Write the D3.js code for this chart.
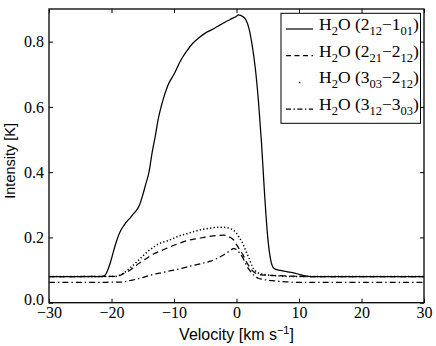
<!DOCTYPE html>
<html><head><meta charset="utf-8">
<script src="https://cdn.jsdelivr.net/npm/d3@7"></script>
<style>body{margin:0;background:#fff}svg{display:block}</style>
</head><body>
<svg id="c" width="436" height="346"></svg>
<script>
// ---- data ----
const xTicks = [-30, -20, -10, 0, 10, 20, 30];
const yTicks = [0, 0.2, 0.4, 0.6, 0.8];

const v212 = [-30,-21.5,-21,-20.5,-20,-19.5,-19,-18.5,-18,-17.5,-17,-16.5,-16,-15.5,-15,-14.5,-14,-13.5,-13,-12.5,-12,-11,-10,-9,-8,-7,-6,-5,-4,-3,-2,-1,0,0.3,1,1.5,2,2.5,3,3.5,4,4.5,5,5.5,6,7,8,9,10,11,12,30];
const i212 = [0.08,0.08,0.085,0.105,0.135,0.17,0.2,0.222,0.237,0.25,0.26,0.272,0.283,0.3,0.33,0.365,0.4,0.46,0.51,0.565,0.605,0.665,0.7,0.74,0.77,0.795,0.812,0.826,0.836,0.847,0.858,0.868,0.878,0.882,0.877,0.867,0.84,0.79,0.72,0.62,0.49,0.33,0.2,0.128,0.105,0.099,0.095,0.092,0.087,0.082,0.08,0.08];

const v221 = [-30,-19.5,-18.5,-18,-17,-16.5,-16,-15,-14,-13,-12,-11,-10,-9,-8,-7,-6,-5,-4,-3,-2,-1,-0.5,0,0.5,1,1.5,2,2.5,3,4,5,8,12,30];
const i221 = [0.08,0.081,0.085,0.09,0.1,0.107,0.115,0.128,0.141,0.152,0.16,0.168,0.176,0.183,0.19,0.194,0.197,0.201,0.204,0.206,0.207,0.2,0.193,0.178,0.163,0.148,0.128,0.112,0.099,0.091,0.085,0.084,0.082,0.08,0.08];

const v303 = [-30,-19.5,-18.6,-18,-17,-16,-15,-14,-13,-12,-11,-10,-9,-8,-7,-6,-5,-4,-3,-2,-1,-0.5,0,0.5,1,1.5,2,2.5,3,3.5,4,5,7,9,30];
const i303 = [0.08,0.08,0.085,0.092,0.107,0.124,0.143,0.16,0.174,0.184,0.19,0.198,0.206,0.211,0.217,0.222,0.226,0.229,0.231,0.231,0.227,0.222,0.213,0.198,0.182,0.158,0.137,0.112,0.098,0.091,0.088,0.085,0.082,0.08,0.08];

const v312 = [-30,-18.5,-18,-17,-16,-15,-14,-13,-12,-11,-10,-9,-8,-7,-6,-5,-4,-3,-2,-1,-0.5,0,0.5,1,1.5,2,2.5,3,3.5,4,5,6,8,10,30];
const i312 = [0.062,0.063,0.064,0.068,0.072,0.077,0.083,0.088,0.092,0.096,0.1,0.104,0.109,0.114,0.118,0.123,0.128,0.137,0.147,0.16,0.166,0.163,0.152,0.138,0.118,0.102,0.09,0.08,0.075,0.072,0.069,0.067,0.064,0.062,0.062];

const seriesNames = [
  {lo:["2","12"], hi:["1","01"]},
  {lo:["2","21"], hi:["2","12"]},
  {lo:["3","03"], hi:["2","12"]},
  {lo:["3","12"], hi:["3","03"]}
];
const seriesV = [v212, v221, v303, v312];
const seriesI = [i212, i221, i303, i312];
const dashes = [null, "6,4", "1.3,2.2", "6,3,1.4,3"];

// ---- layout ----
const L = 49, R = 424, T = 9, B = 302.7;
const svg = d3.select("#c");
const x = d3.scaleLinear().domain([-30, 30]).range([L, R]);
const y = d3.scaleLinear().domain([0, 0.9]).range([B, T]);

const line = d3.line().x(d => x(d[0])).y(d => y(d[1])).curve(d3.curveMonotoneX);

const gPlot = svg.append("g");
seriesV.forEach((vs, k) => {
  const pts = vs.map((v, j) => [v, seriesI[k][j]]);
  gPlot.append("path").attr("d", line(pts)).attr("fill", "none")
    .attr("stroke", "#000").attr("stroke-width", k === 2 ? 1.5 : 1.25)
    .attr("stroke-dasharray", dashes[k]);
});

// axes with inward ticks
const serif = "'Liberation Serif','Times New Roman',serif";
const ax = svg.append("g").attr("transform", `translate(0,${B})`)
  .call(d3.axisBottom(x).tickValues(xTicks).tickSizeInner(-4).tickSizeOuter(0).tickPadding(4));
const axT = svg.append("g").attr("transform", `translate(0,${T})`)
  .call(d3.axisTop(x).tickValues(xTicks).tickSizeInner(-4).tickSizeOuter(0).tickFormat(""));
const ayl = svg.append("g").attr("transform", `translate(${L},0)`)
  .call(d3.axisLeft(y).tickValues(yTicks).tickSizeInner(-4).tickSizeOuter(0).tickPadding(5));
const ayr = svg.append("g").attr("transform", `translate(${R},0)`)
  .call(d3.axisRight(y).tickValues(yTicks).tickSizeInner(-4).tickSizeOuter(0).tickFormat(""));
[ax, axT, ayl, ayr].forEach(g => {
  g.attr("font-family", serif);
  g.select(".domain").remove();
  g.selectAll("line").attr("stroke", "#000").attr("stroke-width", 1);
  g.selectAll("text").attr("font-family", serif).attr("font-size", 16).attr("fill", "#000");
});
// the "0" on the y axis sits slightly above the corner, as in the reference
ayl.selectAll(".tick").filter(d => d === 0).select("text").attr("dy", "0.1em");
svg.append("rect").attr("x", L).attr("y", T).attr("width", R - L).attr("height", B - T)
  .attr("fill", "none").attr("stroke", "#000").attr("stroke-width", 1.3);

// axis labels
const sans = "'Liberation Sans',Arial,sans-serif";
const xl = svg.append("text").attr("x", (L + R) / 2).attr("y", 340).attr("text-anchor", "middle")
  .attr("font-family", sans).attr("font-size", 16);
xl.append("tspan").text("Velocity [km s");
xl.append("tspan").attr("font-size", 11).attr("dy", -6).text("−1");
xl.append("tspan").attr("dy", 6).text("]");

svg.append("text").attr("transform", `translate(15,${(T + B) / 2 + 5}) rotate(-90)`)
  .attr("text-anchor", "middle").attr("font-family", sans).attr("font-size", 14.5)
  .text("Intensity [K]");

// legend
const lg = svg.append("g");
lg.append("rect").attr("x", 281).attr("y", 13.3).attr("width", 139.5).attr("height", 110)
  .attr("fill", "#fff").attr("stroke", "#000").attr("stroke-width", 1);
seriesNames.forEach((s, k) => {
  const by = 30 + k * 26.7;
  const ln = lg.append("line").attr("x1", 286).attr("x2", 313).attr("y1", by - 1).attr("y2", by - 1)
    .attr("stroke", "#000").attr("stroke-width", 1.2);
  if (k === 1) ln.attr("stroke-dasharray", "5,3.5");
  if (k === 2) ln.attr("stroke-dasharray", "0,13,1.4,30").attr("stroke-width", 1.5);
  if (k === 3) ln.attr("stroke-dasharray", "5,2.5,1.4,2.5");
  const t = lg.append("text").attr("x", 319).attr("y", by).attr("font-family", serif).attr("font-size", 17.5);
  t.append("tspan").text("H");
  t.append("tspan").attr("font-size", 12.5).attr("dy", 5).text("2");
  t.append("tspan").attr("dy", -5).text("O (" + s.lo[0]);
  t.append("tspan").attr("font-size", 12.5).attr("dy", 5).text(s.lo[1]);
  t.append("tspan").attr("dy", -5).text("−" + s.hi[0]);
  t.append("tspan").attr("font-size", 12.5).attr("dy", 5).text(s.hi[1]);
  t.append("tspan").attr("dy", -5).text(")");
});
</script>
</body></html>
